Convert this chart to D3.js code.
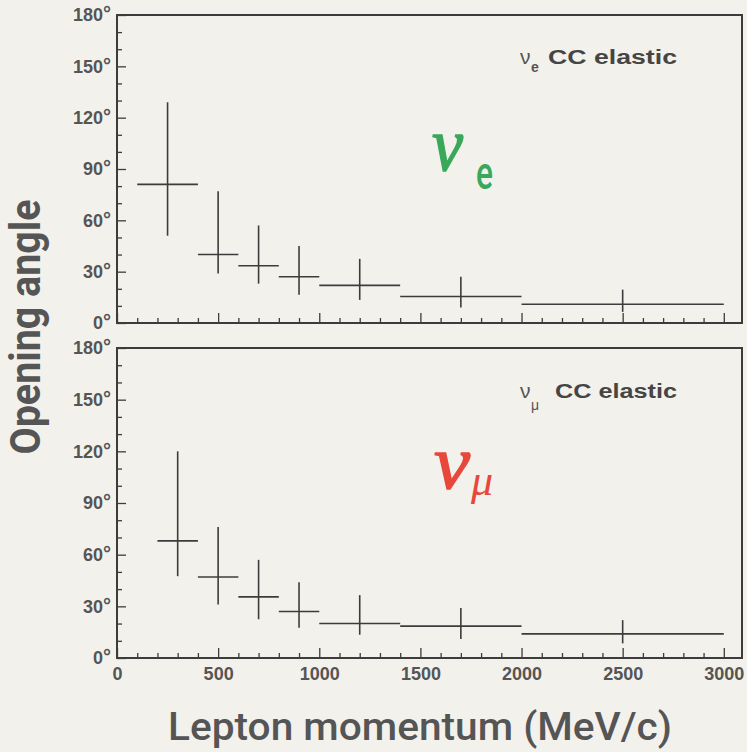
<!DOCTYPE html>
<html>
<head>
<meta charset="utf-8">
<script src="https://cdn.jsdelivr.net/npm/d3@7"></script>
<style>
  html, body { margin: 0; padding: 0; background: #f3f1ec; }
  svg { display: block; }
</style>
</head>
<body>
<div id="chart"></div>
<script>
// nu_e CC elastic : momentum bins (MeV/c) and opening angle (deg)
var eLo  = [100, 400, 600, 800, 1000, 1400, 2000];
var eHi  = [400, 600, 800, 1000, 1400, 2000, 3000];
var eMid = [250, 500, 700, 900, 1200, 1700, 2500];
var eVal = [81, 40, 33.5, 27, 22, 15.5, 11];
var eUp  = [129, 77, 57, 45, 37.5, 27, 19.5];
var eDn  = [51, 29, 23, 16.5, 13.5, 9, 6.5];

// nu_mu CC elastic
var muLo  = [200, 400, 600, 800, 1000, 1400, 2000];
var muHi  = [400, 600, 800, 1000, 1400, 2000, 3000];
var muMid = [300, 500, 700, 900, 1200, 1700, 2500];
var muVal = [68, 47, 35.5, 27, 20, 18.5, 14];
var muUp  = [120, 76, 57, 44, 36.5, 29, 22];
var muDn  = [47.5, 31, 22.5, 17.5, 13.5, 11, 8.5];

var xMajor = [0, 500, 1000, 1500, 2000, 2500, 3000];
var yMajor = [0, 30, 60, 90, 120, 150, 180];

var W = 747, H = 752;
var left = 117, right = 742;
var ink = "#3c3c3c";
var sans = "'Liberation Sans', Arial, sans-serif";

var svg = d3.select("#chart").append("svg")
  .attr("width", W)
  .attr("height", H);

svg.append("rect").attr("width", W).attr("height", H).attr("fill", "#f3f1ec");

var x = d3.scaleLinear().domain([0, 3090]).range([left, right]);

function drawPanel(top, bottom, lo, hi, mid, val, up, dn, showX) {
  var y = d3.scaleLinear().domain([0, 180]).range([bottom, top]);
  var g = svg.append("g");

  // minor ticks every 10 deg / 100 MeV
  var yMinor = d3.range(0, 181, 10).filter(function (d) { return d % 30 !== 0; });
  var xMinor = d3.range(0, 3001, 100).filter(function (d) { return d % 500 !== 0; });

  g.append("g")
    .attr("transform", "translate(" + left + ",0)")
    .call(d3.axisLeft(y).tickValues(yMinor).tickSize(-5).tickFormat(""))
    .call(function (a) { a.select(".domain").remove(); });

  var ya = g.append("g")
    .attr("transform", "translate(" + left + ",0)")
    .call(d3.axisLeft(y).tickValues(yMajor).tickSize(-9).tickPadding(6));
  ya.select(".domain").remove();
  ya.selectAll("text")
    .text(null)
    .style("font-family", sans)
    .style("font-weight", "bold")
    .style("font-size", "18px")
    .attr("fill", "#555")
    .each(function (d) {
      var t = d3.select(this);
      t.append("tspan").text(d);
      t.append("tspan").attr("dy", "-0.05em").style("font-size", "20px").text("°");
    });

  g.append("g")
    .attr("transform", "translate(0," + bottom + ")")
    .call(d3.axisBottom(x).tickValues(xMinor).tickSize(-5).tickFormat(""))
    .call(function (a) { a.select(".domain").remove(); });

  var xa = g.append("g")
    .attr("transform", "translate(0," + bottom + ")")
    .call(d3.axisBottom(x).tickValues(xMajor).tickSize(-10).tickPadding(9)
      .tickFormat(showX ? d3.format("d") : ""));
  xa.select(".domain").remove();
  xa.selectAll("text")
    .style("font-family", sans)
    .style("font-weight", "bold")
    .style("font-size", "18px")
    .attr("fill", "#555");

  g.selectAll(".tick line").attr("stroke", ink).attr("stroke-width", 1.3);

  // frame
  g.append("rect")
    .attr("x", left).attr("y", top)
    .attr("width", right - left).attr("height", bottom - top)
    .attr("fill", "none")
    .attr("stroke", ink)
    .attr("stroke-width", 2);

  // crosses: bin width horizontally, error range vertically
  var idx = d3.range(val.length);
  g.selectAll(".hbar").data(idx).enter().append("line")
    .attr("x1", function (i) { return x(lo[i]); })
    .attr("x2", function (i) { return x(hi[i]); })
    .attr("y1", function (i) { return y(val[i]); })
    .attr("y2", function (i) { return y(val[i]); })
    .attr("stroke", ink).attr("stroke-width", 1.6);
  g.selectAll(".vbar").data(idx).enter().append("line")
    .attr("x1", function (i) { return x(mid[i]); })
    .attr("x2", function (i) { return x(mid[i]); })
    .attr("y1", function (i) { return y(dn[i]); })
    .attr("y2", function (i) { return y(up[i]); })
    .attr("stroke", ink).attr("stroke-width", 1.6);

  return g;
}

var gTop = drawPanel(15, 323, eLo, eHi, eMid, eVal, eUp, eDn, false);
var gBot = drawPanel(348, 658, muLo, muHi, muMid, muVal, muUp, muDn, true);

// small legend text "nu_x CC elastic"
function legend(g, by, sub, subShift) {
  g.append("text")
    .attr("x", 520).attr("y", by)
    .style("font-family", sans)
    .style("font-size", "21px")
    .attr("fill", "#555")
    .text("ν");
  g.append("text")
    .attr("x", 531).attr("y", by + subShift)
    .style("font-family", sans)
    .style("font-weight", sub === "e" ? "bold" : "normal")
    .style("font-size", "14px")
    .attr("fill", "#555")
    .text(sub);
  g.append("text")
    .attr("x", 677).attr("y", by)
    .attr("text-anchor", "end")
    .attr("textLength", sub === "e" ? 129 : 122)
    .attr("lengthAdjust", "spacingAndGlyphs")
    .style("font-family", sans)
    .style("font-weight", "bold")
    .style("font-size", "20px")
    .attr("fill", "#454545")
    .text("CC elastic");
}
legend(gTop, 64, "e", 8);
legend(gBot, 398, "μ", 12);

// big coloured particle symbols
function bigSymbol(g, nx, ny, nw, sub, sx, sy, color) {
  g.append("text")
    .attr("x", nx).attr("y", ny)
    .attr("textLength", nw)
    .attr("lengthAdjust", "spacingAndGlyphs")
    .style("font-family", "'Liberation Serif', 'DejaVu Serif', serif")
    .style("font-style", "italic")
    .style("font-size", "76px")
    .attr("fill", color)
    .attr("stroke", color)
    .attr("stroke-width", 1.4)
    .text("ν");
  var t = g.append("text")
    .attr("x", sx).attr("y", sy)
    .attr("fill", color)
    .text(sub);
  if (sub === "e") {
    t.style("font-family", "Roboto, sans-serif")
      .style("font-weight", "500")
      .style("font-size", "46px")
      .attr("textLength", 17)
      .attr("lengthAdjust", "spacingAndGlyphs");
  } else {
    t.style("font-family", "'Liberation Serif', serif")
      .style("font-style", "italic")
      .style("font-size", "44px");
  }
}
bigSymbol(gTop, 432, 170, 31, "e", 476, 189, "#3aa85a");
bigSymbol(gBot, 434, 488, 36, "μ", 471, 495, "#e8473b");

// axis titles
svg.append("text")
  .attr("transform", "translate(40,327) rotate(-90)")
  .attr("text-anchor", "middle")
  .attr("textLength", 255)
  .attr("lengthAdjust", "spacingAndGlyphs")
  .style("font-family", "Roboto, sans-serif")
  .style("font-weight", "bold")
  .style("font-size", "43px")
  .attr("fill", "#555")
  .text("Opening angle");

svg.append("text")
  .attr("x", 168).attr("y", 740)
  .attr("textLength", 504)
  .attr("lengthAdjust", "spacingAndGlyphs")
  .style("font-family", "Roboto, sans-serif")
  .style("font-weight", "500")
  .style("font-size", "39px")
  .attr("fill", "#555")
  .text("Lepton momentum (MeV/c)");
</script>
</body>
</html>
